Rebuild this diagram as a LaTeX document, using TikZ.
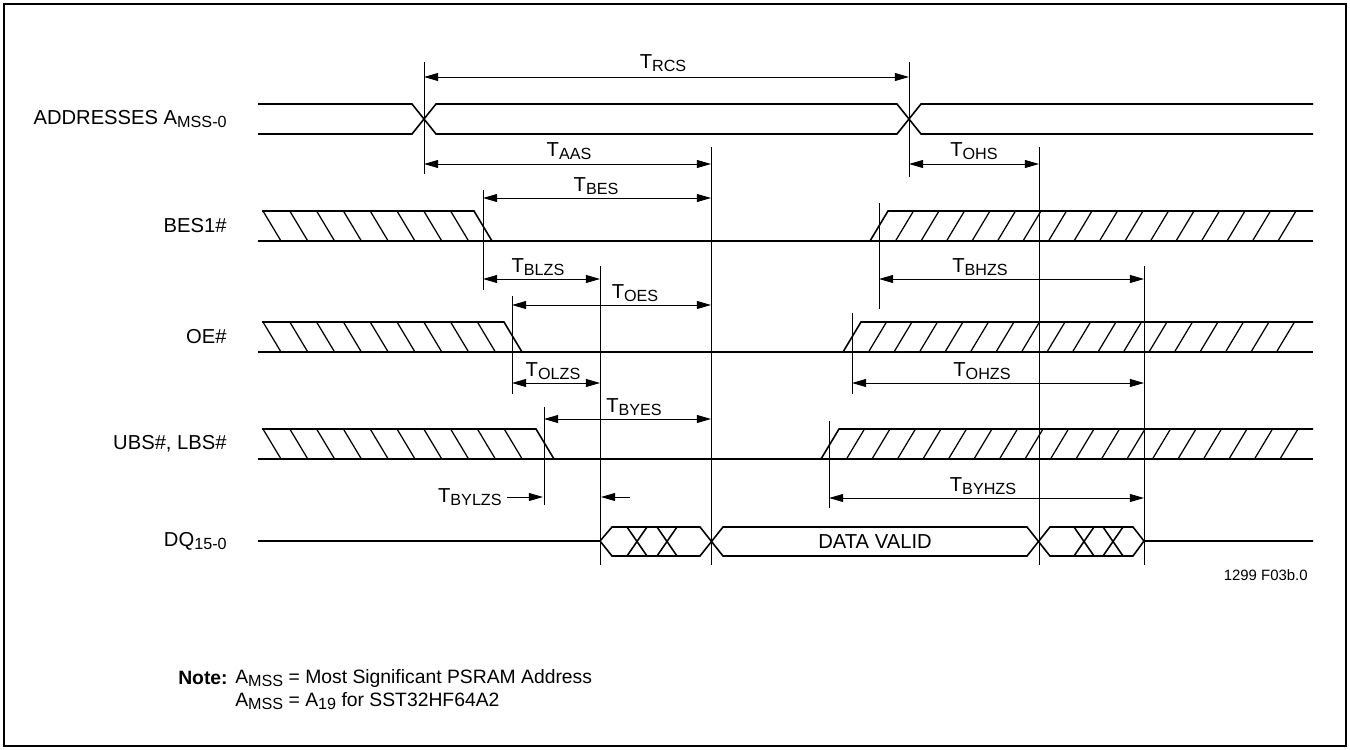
\documentclass[tikz,border=0pt]{standalone}
\usepackage{fontspec}
\setmainfont{Liberation Sans}
\usetikzlibrary{arrows.meta}
\newcommand{\tsub}[2]{#1\raisebox{-0.35ex}{\fontsize{9.2}{10}\selectfont #2}}

\begin{document}
\begin{tikzpicture}[x=0.02cm, y=-0.02cm,
  every node/.style={font=\fontsize{11.5}{13}\selectfont, inner sep=0pt},
  sig/.style={line width=0.9pt},
  hatch/.style={line width=0.7pt},
  vline/.style={line width=0.5pt},
  dim/.style={line width=0.5pt, {Triangle[length=8pt,width=4.5pt]}-{Triangle[length=8pt,width=4.5pt]}},
  sig label/.style={anchor=east},
  note text/.style={anchor=west, font=\fontsize{11}{12}\selectfont}]
  \useasboundingbox (0,0) rectangle (1350,750);
  \draw[line width=1.3pt] (4,4) rectangle (1346,746);
  % signal names
  \node[sig label] (addr) at (227,119) {ADDRESSES \tsub{A}{MSS-0}};
  \node[sig label] (bes) at (227,226) {BES1\#};
  \node[sig label] (oe) at (227,337) {OE\#};
  \node[sig label] (ubs) at (227,444) {UBS\#, LBS\#};
  \node[sig label] (dq) at (227,541) {\tsub{DQ}{15-0}};
  % addresses
  \draw[sig] (258,104) -- (412,104) -- (436,134) -- (897,134) -- (921,104) -- (1313,104);
  \draw[sig] (258,134) -- (412,134) -- (436,104) -- (897,104) -- (921,134) -- (1313,134);
  % BES1#, OE#, UBS#/LBS#
  \foreach \ty/\fe/\nl/\re/\nr in {211/474/7/870/16, 322/504/8/843/17, 429/536/9/821/18} {
    \draw[sig] (258,\ty+30) -- (1313,\ty+30);
    \draw[sig] (262,\ty) -- (\fe,\ty) -- (\fe+18,\ty+30);
    \foreach \k in {0,...,\nl} \draw[hatch] (263+26.8*\k,\ty) -- (281+26.8*\k,\ty+30);
    \draw[sig] (\re,\ty+30) -- (\re+18,\ty) -- (1313,\ty);
    \foreach \k in {1,...,\nr} \draw[hatch] (\re+25.5*\k,\ty+30) -- (\re+18+25.5*\k,\ty);
  }
  % DQ15-0
  \draw[sig] (258,541) -- (600,541) -- (612,527) -- (700,527) -- (723,556) -- (1027,556) -- (1050,527) -- (1133,527) -- (1144,541) -- (1313,541);
  \draw[sig] (600,541) -- (612,556) -- (700,556) -- (723,527) -- (1027,527) -- (1050,556) -- (1133,556) -- (1144,541);
  \foreach \cx in {637,667,1084,1113} \draw[sig] (\cx-10,527) -- (\cx+10,556) (\cx-10,556) -- (\cx+10,527);
  \node (valid) at (875,542) {DATA VALID};
  % timing edges
  \draw[vline] (424,62) -- (424,174);
  \draw[vline] (909,62) -- (909,177);
  \draw[vline] (711,147) -- (711,565);
  \draw[vline] (1039,147) -- (1039,565);
  \draw[vline] (483,190) -- (483,290);
  \draw[vline] (879,203) -- (879,309);
  \draw[vline] (600,266) -- (600,565);
  \draw[vline] (1144,266) -- (1144,565);
  \draw[vline] (512,296) -- (512,394);
  \draw[vline] (852,313) -- (852,394);
  \draw[vline] (544,407) -- (544,505);
  \draw[vline] (829,421) -- (829,508);
  % timing parameters
  \draw[dim] (424,77) -- (909,77);   \node (trcs) at (663,63) {\tsub{T}{RCS}};
  \draw[dim] (424,164) -- (711,164); \node (taas) at (569,151) {\tsub{T}{AAS}};
  \draw[dim] (909,164) -- (1039,164); \node (tohs) at (974,151) {\tsub{T}{OHS}};
  \draw[dim] (483,198) -- (711,198); \node (tbes) at (596,186) {\tsub{T}{BES}};
  \draw[dim] (483,279) -- (600,279); \node (tblzs) at (538,267) {\tsub{T}{BLZS}};
  \draw[dim] (879,279) -- (1144,279); \node (tbhzs) at (980,267) {\tsub{T}{BHZS}};
  \draw[dim] (512,305) -- (711,305); \node (toes) at (635,293) {\tsub{T}{OES}};
  \draw[dim] (512,383) -- (600,383); \node (tolzs) at (553,371) {\tsub{T}{OLZS}};
  \draw[dim] (852,383) -- (1144,383); \node (tohzs) at (982,371) {\tsub{T}{OHZS}};
  \draw[dim] (544,419) -- (711,419); \node (tbyes) at (634,407) {\tsub{T}{BYES}};
  \draw[dim] (829,498) -- (1144,498); \node (tbyhzs) at (983,486) {\tsub{T}{BYHZS}};
  \node[anchor=east] (tbylzs) at (502,497) {\tsub{T}{BYLZS}};
  \draw[line width=0.5pt, -{Triangle[length=8pt,width=4.5pt]}] (tbylzs.east) ++(5,0) -- (543,497);
  \draw[line width=0.5pt, -{Triangle[length=8pt,width=4.5pt]}] (630,497) -- (601,497);
  % figure id and note
  \node[anchor=east, font=\fontsize{8.5}{9}\selectfont] (figid) at (1308,575) {1299 F03b.0};
  \node[note text, anchor=east] (note) at (228,678) {\textbf{Note:}};
  \node[note text] (note1) at (235,678) {\tsub{A}{MSS} = Most Significant PSRAM Address};
  \node[note text] (note2) at (235,701) {\tsub{A}{MSS} = \tsub{A}{19} for SST32HF64A2};
\end{tikzpicture}
\end{document}
